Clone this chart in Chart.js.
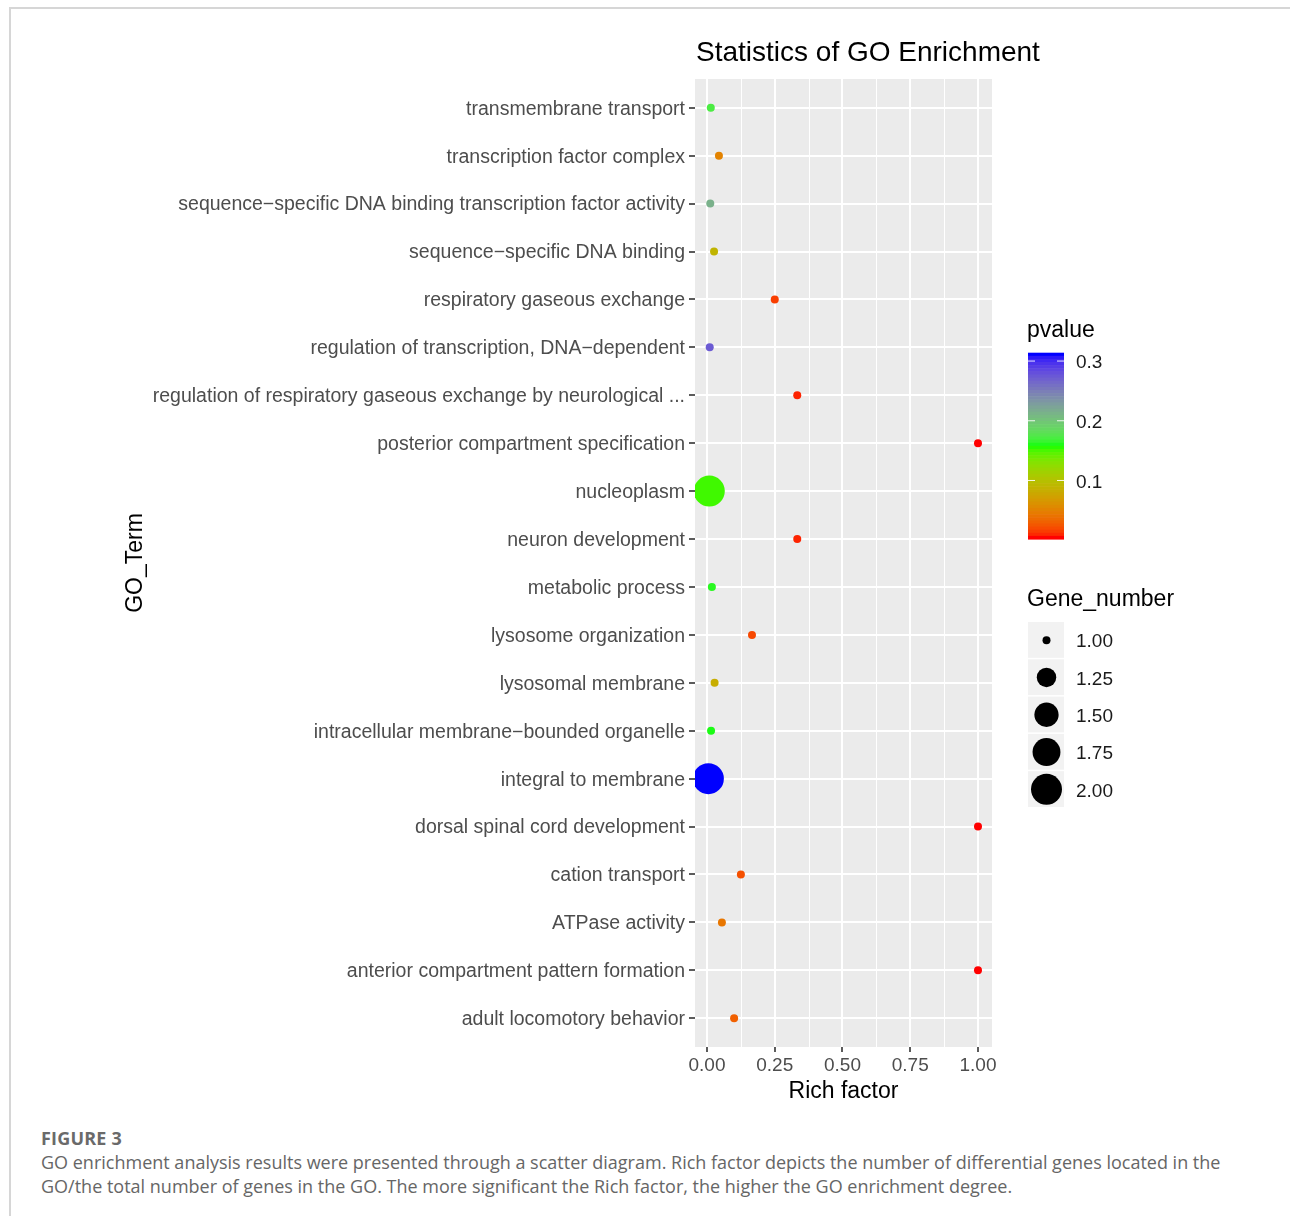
<!DOCTYPE html>
<html>
<head>
<meta charset="utf-8">
<script src="https://cdn.jsdelivr.net/npm/chart.js@4"></script>
<style>
  html, body { margin: 0; padding: 0; background: #fff; }
  body { width: 1290px; height: 1216px; position: relative; overflow: hidden; }
  #frame { position: absolute; left: 9px; top: 7px; width: 1300px; height: 1230px;
           border-top: 2px solid #d6d6d6; border-left: 2px solid #d6d6d6; }
  #chart { position: absolute; left: 0; top: 0; }
  #caption { position: absolute; left: 41px; top: 1126px; width: 1240px;
             font-family: "Open Sans", sans-serif; color: #666; font-size: 18px; line-height: 24px; }
  #caption .fig { font-weight: 700; letter-spacing: 0.2px; color: #6a6a6a; }
</style>
</head>
<body>
<div id="frame"></div>
<canvas id="chart" width="1290" height="1110"></canvas>
<div id="caption">
  <div class="fig">FIGURE 3</div>
  <div>GO enrichment analysis results were presented through a scatter diagram. Rich factor depicts the number of differential genes located in the</div>
  <div>GO/the total number of genes in the GO. The more significant the Rich factor, the higher the GO enrichment degree.</div>
</div>
<script>
// GO terms, top to bottom
const goTerms = [
  "transmembrane transport",
  "transcription factor complex",
  "sequence\u2212specific DNA binding transcription factor activity",
  "sequence\u2212specific DNA binding",
  "respiratory gaseous exchange",
  "regulation of transcription, DNA\u2212dependent",
  "regulation of respiratory gaseous exchange by neurological ...",
  "posterior compartment specification",
  "nucleoplasm",
  "neuron development",
  "metabolic process",
  "lysosome organization",
  "lysosomal membrane",
  "intracellular membrane\u2212bounded organelle",
  "integral to membrane",
  "dorsal spinal cord development",
  "cation transport",
  "ATPase activity",
  "anterior compartment pattern formation",
  "adult locomotory behavior"
];
const richFactor = [0.014, 0.044, 0.012, 0.026, 0.25, 0.010, 0.333, 1.0, 0.0085, 0.333,
                    0.018, 0.166, 0.028, 0.015, 0.005, 1.0, 0.125, 0.055, 1.0, 0.10];
const pValue     = [0.172, 0.049, 0.215, 0.088, 0.013, 0.275, 0.006, 0.002, 0.152, 0.006,
                    0.162, 0.017, 0.082, 0.160, 0.314, 0.002, 0.020, 0.041, 0.002, 0.028];
const geneNumber = [1, 1, 1, 1, 1, 1, 1, 1, 2, 1, 1, 1, 1, 1, 2, 1, 1, 1, 1, 1];

const xTicks = [0, 0.25, 0.5, 0.75, 1.0];
const xMinorTicks = [0.125, 0.375, 0.625, 0.875];
const pTicks = [0.1, 0.2, 0.3];
const sizeBreaks = [1.00, 1.25, 1.50, 1.75, 2.00];

// ---- colour scale: red -> green -> blue, interpolated in CIELAB ----
const LAB_RED = [53.2329, 80.1093, 67.2201];
const LAB_GREEN = [87.7370, -86.1846, 83.1812];
const LAB_BLUE = [32.3026, 79.1967, -107.8637];
function lab2rgb(L, a, b) {
  let y = (L + 16) / 116, x = a / 500 + y, z = y - b / 200;
  const f = t => (t ** 3 > 0.008856 ? t ** 3 : (t - 16 / 116) / 7.787);
  x = 0.95047 * f(x); y = f(y); z = 1.08883 * f(z);
  const r = x * 3.2406 + y * -1.5372 + z * -0.4986;
  const g = x * -0.9689 + y * 1.8758 + z * 0.0415;
  const bl = x * 0.0557 + y * -0.2040 + z * 1.0570;
  const gam = c => (c > 0.0031308 ? 1.055 * Math.pow(c, 1 / 2.4) - 0.055 : 12.92 * c);
  return [r, g, bl].map(c => Math.round(Math.max(0, Math.min(1, gam(c))) * 255));
}
const pMin = Math.min(...pValue), pMax = Math.max(...pValue);
function pColour(p) {
  let t = (p - pMin) / (pMax - pMin);
  t = Math.max(0, Math.min(1, t));
  let A, B, s;
  if (t < 0.5) { A = LAB_RED; B = LAB_GREEN; s = t * 2; }
  else { A = LAB_GREEN; B = LAB_BLUE; s = (t - 0.5) * 2; }
  const lab = A.map((v, i) => v + (B[i] - v) * s);
  const rgb = lab2rgb(...lab);
  return `rgb(${rgb[0]},${rgb[1]},${rgb[2]})`;
}

// ---- size scale (area) ----
const sMin = 1, sMax = 2;
function sizeOf(n) { return 1 + 5 * Math.sqrt((n - sMin) / (sMax - sMin)); }
function radiusOf(n) { return (4.6 * sizeOf(n) + 3.4) / 2; }

const points = richFactor.map((x, i) => ({ x: x, y: i }));

const TXT = "'Liberation Sans', Arial, sans-serif";

const panelDecor = {
  id: 'panelDecor',
  beforeDraw(chart) {
    const { ctx, chartArea: a, scales } = chart;
    ctx.save();
    ctx.fillStyle = '#ebebeb';
    ctx.fillRect(a.left, a.top, a.right - a.left, a.bottom - a.top);
    ctx.strokeStyle = '#ffffff';
    ctx.lineWidth = 1;
    xMinorTicks.forEach(v => {
      const px = Math.round(scales.x.getPixelForValue(v)) + 0.5;
      ctx.beginPath(); ctx.moveTo(px, a.top); ctx.lineTo(px, a.bottom); ctx.stroke();
    });
    ctx.restore();
  },
  afterDraw(chart) {
    const { ctx, chartArea: a } = chart;
    ctx.save();
    ctx.fillStyle = '#000';
    ctx.textBaseline = 'middle';
    // title
    ctx.font = `28px ${TXT}`;
    ctx.textAlign = 'left';
    ctx.fillText('Statistics of GO Enrichment', a.left + 1, 53);
    // x axis title
    ctx.font = `23px ${TXT}`;
    ctx.textAlign = 'center';
    ctx.fillText('Rich factor', (a.left + a.right) / 2, 1092);
    // y axis title
    ctx.save();
    ctx.translate(136, (a.top + a.bottom) / 2);
    ctx.rotate(-Math.PI / 2);
    ctx.fillText('GO_Term', 0, 0);
    ctx.restore();

    // colour bar legend
    const lx = 1028;
    ctx.textAlign = 'left';
    ctx.font = `23px ${TXT}`;
    ctx.fillText('pvalue', lx - 1, 331);
    const barTop = 352.7, barH = 186.3, barW = 36;
    const nbin = 60;
    for (let i = 0; i < nbin; i++) {
      const p = pMax - (pMax - pMin) * i / (nbin - 1);
      ctx.fillStyle = pColour(p);
      ctx.fillRect(lx, barTop + barH * i / nbin, barW, barH / nbin + 0.6);
    }
    ctx.font = `19px ${TXT}`;
    pTicks.forEach(p => {
      const y = barTop + (pMax - p) / (pMax - pMin) * barH;
      ctx.strokeStyle = 'rgba(255,255,255,0.9)';
      ctx.lineWidth = 1;
      ctx.beginPath();
      ctx.moveTo(lx, y); ctx.lineTo(lx + 7, y);
      ctx.moveTo(lx + barW - 7, y); ctx.lineTo(lx + barW, y);
      ctx.stroke();
      ctx.fillStyle = '#1a1a1a';
      ctx.fillText(p.toFixed(1), lx + 48, y + 2);
    });

    // size legend
    ctx.fillStyle = '#000';
    ctx.font = `23px ${TXT}`;
    ctx.fillText('Gene_number', lx - 1, 600);
    const keyTop = 622, keyH = 37.3, keyW = 36;
    ctx.font = `19px ${TXT}`;
    sizeBreaks.forEach((n, i) => {
      const y0 = keyTop + keyH * i;
      ctx.fillStyle = '#f2f2f2';
      ctx.fillRect(lx, y0, keyW, keyH - 1.5);
      ctx.fillStyle = '#000';
      ctx.beginPath();
      ctx.arc(lx + keyW / 2 + 0.5, y0 + keyH / 2 - 0.5, radiusOf(n), 0, Math.PI * 2);
      ctx.fill();
      ctx.fillStyle = '#1a1a1a';
      ctx.fillText(n.toFixed(2), lx + 48, y0 + keyH / 2 + 1.5);
    });
    ctx.restore();
  }
};

new Chart(document.getElementById('chart'), {
  type: 'scatter',
  data: {
    datasets: [{
      data: points,
      backgroundColor: pValue.map(pColour),
      pointRadius: geneNumber.map(radiusOf),
      pointHoverRadius: geneNumber.map(radiusOf),
      borderWidth: 0,
      pointStyle: 'circle'
    }]
  },
  options: {
    responsive: false,
    devicePixelRatio: 1,
    animation: false,
    events: [],
    layout: { padding: { left: 0, right: 298, top: 79, bottom: 0 } },
    plugins: { legend: { display: false }, tooltip: { enabled: false } },
    scales: {
      x: {
        type: 'linear',
        min: -0.0443, max: 1.0517,
        afterBuildTicks: s => { s.ticks = xTicks.map(v => ({ value: v })); },
        afterFit: s => { s.height = 63; },
        ticks: {
          callback: v => Number(v).toFixed(2),
          color: '#4d4d4d',
          font: { family: TXT, size: 19 },
          padding: 2,
          maxRotation: 0, autoSkip: false
        },
        grid: { color: '#ffffff', lineWidth: 2, drawTicks: true, tickLength: 5,
                tickColor: '#333333', tickWidth: 1.6 },
        border: { display: false }
      },
      y: {
        type: 'linear',
        reverse: true,
        min: -0.6, max: goTerms.length - 1 + 0.6,
        afterBuildTicks: s => { s.ticks = goTerms.map((_, i) => ({ value: i })); },
        afterFit: s => { s.width = 695; },
        ticks: {
          callback: v => goTerms[v],
          color: '#4d4d4d',
          font: { family: TXT, size: 19.5 },
          padding: 4,
          labelOffset: 1.5,
          autoSkip: false
        },
        grid: { color: '#ffffff', lineWidth: 2, drawTicks: true, tickLength: 6,
                tickColor: '#333333', tickWidth: 1.6 },
        border: { display: false }
      }
    }
  },
  plugins: [panelDecor]
});
</script>
</body>
</html>
